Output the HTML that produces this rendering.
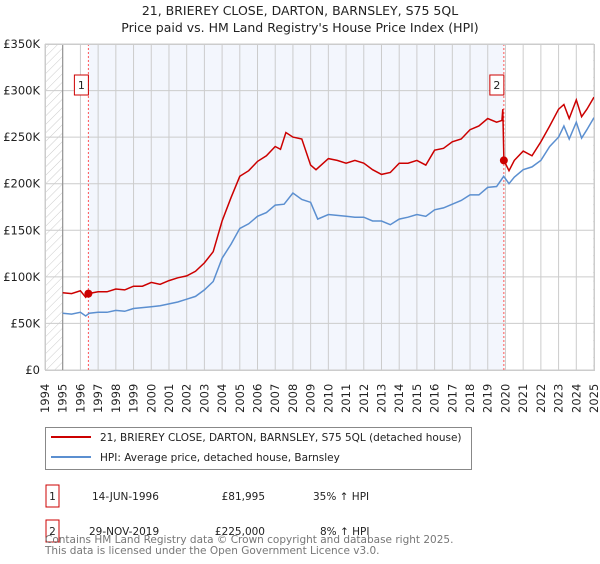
<!DOCTYPE html>
<html><head><meta charset="utf-8"><style>
body{margin:0;background:#fff;font-family:"DejaVu Sans","Liberation Sans",sans-serif;}
svg text{font-family:"DejaVu Sans","Liberation Sans",sans-serif;}
</style></head><body>
<svg id="chart" width="600" height="560" viewBox="0 0 600 560">
<defs><pattern id="hatch" width="6" height="6" patternUnits="userSpaceOnUse" patternTransform="rotate(45)"><line x1="0" y1="0" x2="0" y2="6" stroke="#ccc" stroke-width="1"/></pattern></defs>
<text x="300" y="15" text-anchor="middle" font-size="12.5" fill="#222">21, BRIEREY CLOSE, DARTON, BARNSLEY, S75 5QL</text>
<text x="300" y="32" text-anchor="middle" font-size="12.5" fill="#222">Price paid vs. HM Land Registry's House Price Index (HPI)</text>
<g id="plot"></g>
<g>
<rect x="45.5" y="427.5" width="426" height="42" fill="#fff" stroke="#888"/>
<line x1="51" y1="437" x2="91" y2="437" stroke="#cc0000" stroke-width="2"/>
<text x="100" y="441" font-size="10.5" fill="#222">21, BRIEREY CLOSE, DARTON, BARNSLEY, S75 5QL (detached house)</text>
<line x1="51" y1="457" x2="91" y2="457" stroke="#5b8fd0" stroke-width="2"/>
<text x="100" y="461" font-size="10.5" fill="#222">HPI: Average price, detached house, Barnsley</text>
</g>
<g font-size="10.5" fill="#222">
<rect x="46" y="485" width="13" height="22" fill="#fff" stroke="#cc0000"/>
<text x="52.5" y="500" text-anchor="middle">1</text>
<text x="92" y="500">14-JUN-1996</text>
<text x="265" y="500" text-anchor="end">£81,995</text>
<text x="313" y="500">35% ↑ HPI</text>
<rect x="46" y="520" width="13" height="22" fill="#fff" stroke="#cc0000"/>
<text x="52.5" y="535" text-anchor="middle">2</text>
<text x="89" y="535">29-NOV-2019</text>
<text x="265" y="535" text-anchor="end">£225,000</text>
<text x="320" y="535">8% ↑ HPI</text>
</g>
<g font-size="10.5" fill="#777">
<text x="45" y="543">Contains HM Land Registry data © Crown copyright and database right 2025.</text>
<text x="45" y="554">This data is licensed under the Open Government Licence v3.0.</text>
</g>
</svg>
<script>
const yTicks=[0,50,100,150,200,250,300,350];
const yTickLabels=["£0","£50K","£100K","£150K","£200K","£250K","£300K","£350K"];
const years=[1994,1995,1996,1997,1998,1999,2000,2001,2002,2003,2004,2005,2006,2007,2008,2009,2010,2011,2012,2013,2014,2015,2016,2017,2018,2019,2020,2021,2022,2023,2024,2025];
const hpiDates=[1995.0,1995.5,1996.0,1996.3,1996.5,1997.0,1997.5,1998.0,1998.5,1999.0,1999.5,2000.0,2000.5,2001.0,2001.5,2002.0,2002.5,2003.0,2003.5,2004.0,2004.5,2005.0,2005.5,2006.0,2006.5,2007.0,2007.5,2008.0,2008.5,2009.0,2009.4,2010.0,2010.5,2011.0,2011.5,2012.0,2012.5,2013.0,2013.5,2014.0,2014.5,2015.0,2015.5,2016.0,2016.5,2017.0,2017.5,2018.0,2018.5,2019.0,2019.5,2019.9,2020.2,2020.5,2021.0,2021.5,2022.0,2022.5,2023.0,2023.3,2023.6,2024.0,2024.3,2024.6,2025.0];
const hpiValues=[61,60,62,58,61,62,62,64,63,66,67,68,69,71,73,76,79,86,95,120,135,152,157,165,169,177,178,190,183,180,162,167,166,165,164,164,160,160,156,162,164,167,165,172,174,178,182,188,188,196,197,208,200,207,215,218,225,240,250,262,248,266,249,258,271];
const priceDates=[1995.0,1995.5,1996.0,1996.3,1996.45,1997.0,1997.5,1998.0,1998.5,1999.0,1999.5,2000.0,2000.5,2001.0,2001.5,2002.0,2002.5,2003.0,2003.5,2004.0,2004.5,2005.0,2005.5,2006.0,2006.5,2007.0,2007.3,2007.6,2008.0,2008.5,2009.0,2009.3,2010.0,2010.5,2011.0,2011.5,2012.0,2012.5,2013.0,2013.5,2014.0,2014.5,2015.0,2015.5,2016.0,2016.5,2017.0,2017.5,2018.0,2018.5,2019.0,2019.5,2019.8,2019.85,2019.91,2020.2,2020.5,2021.0,2021.5,2022.0,2022.5,2023.0,2023.3,2023.6,2024.0,2024.3,2024.6,2025.0];
const priceValues=[83,82,85,78,82,84,84,87,86,90,90,94,92,96,99,101,106,115,127,160,185,208,214,224,230,240,237,255,250,248,220,215,227,225,222,225,222,215,210,212,222,222,225,220,236,238,245,248,258,262,270,266,268,280,225,214,225,235,230,245,262,280,285,270,290,272,280,293];
const saleDates=[1996.45,2019.91];
const saleValues=[81.995,225];
const NS="http://www.w3.org/2000/svg";
const X0=45,X1=594,Y0=370,Y1=44;
const xs=d=>X0+(d-1994)/(2025-1994)*(X1-X0);
const ys=v=>Y0-v/350*(Y0-Y1);
const g=document.getElementById('plot');
function mk(t,a,p){const e=document.createElementNS(NS,t);for(const k in a)e.setAttribute(k,a[k]);(p||g).appendChild(e);return e;}
let e;
e=mk('rect',{x:xs(1996.45),y:Y1,width:xs(2019.91)-xs(1996.45),height:Y0-Y1,fill:'#eef2fc',opacity:0.7});


e=mk('rect',{x:X0,y:Y1,width:xs(1995)-X0,height:Y0-Y1,fill:'url(#hatch)'});


e=mk('rect',{x:xs(2024.95),y:Y1,width:X1-xs(2024.95),height:Y0-Y1,fill:'url(#hatch)'});


years.forEach(y=>{
  e=mk('line',{x1:xs(y),x2:xs(y),y1:Y1,y2:Y0,stroke:'#ccc','stroke-width':1});
  
  
  e=mk('text',{x:0,y:0,transform:`translate(${xs(y)+4},413) rotate(-90)`,'font-size':11.5,fill:'#222'});
  e.textContent=y;
  
  
});
yTicks.forEach((v,i)=>{
  e=mk('line',{x1:X0,x2:X1,y1:ys(v),y2:ys(v),stroke:'#ccc','stroke-width':1});
  
  
  e=mk('text',{x:40,y:ys(v)+4,'text-anchor':'end','font-size':11.5,fill:'#222'});
  e.textContent=yTickLabels[i];
  
  
});
e=mk('line',{x1:xs(1995),x2:xs(1995),y1:Y1,y2:Y0,stroke:'#888'});


saleDates.forEach((d,i)=>{
  e=mk('line',{x1:xs(d),x2:xs(d),y1:Y1,y2:Y0,stroke:'#f55','stroke-dasharray':'2,2','stroke-width':1});
  
  
});
function path(ds,vs,col,name){
  const dd=ds.map((d,i)=>(i?'L':'M')+xs(d).toFixed(1)+','+ys(vs[i]).toFixed(1)).join('');
  e=mk('path',{d:dd,fill:'none',stroke:col,'stroke-width':1.5});
  
  
}
path(hpiDates,hpiValues,'#5b8fd0','hpi-line');
path(priceDates,priceValues,'#cc0000','price-line');
saleDates.forEach((d,i)=>{
  e=mk('circle',{cx:xs(d),cy:ys(saleValues[i]),r:4,fill:'#cc0000'});
  
  
  const bx=xs(d)-14;
  e=mk('rect',{x:bx,y:75,width:14,height:20,fill:'#fff',stroke:'#cc0000'});
  
  
  e=mk('text',{x:bx+7,y:89,'text-anchor':'middle','font-size':11,fill:'#222'});
  e.textContent=i+1;
  
  
});
e=mk('rect',{x:X0+0.5,y:Y1+0.5,width:X1-X0,height:Y0-Y1,fill:'none',stroke:'#ccc'});


</script>
</body></html>
